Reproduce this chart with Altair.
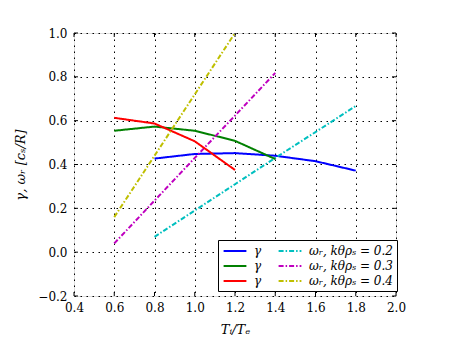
import altair as alt
import pandas as pd

# ---- data ----
x_g1 = [0.8, 1.0, 1.2, 1.4, 1.6, 1.8]
y_g1 = [0.427, 0.448, 0.452, 0.44, 0.415, 0.372]
x_g2 = [0.6, 0.8, 1.0, 1.2, 1.4]
y_g2 = [0.554, 0.573, 0.554, 0.508, 0.425]
x_g3 = [0.6, 0.8, 1.0, 1.2]
y_g3 = [0.613, 0.587, 0.506, 0.375]
x_w1 = [0.8, 1.0, 1.2, 1.4, 1.6, 1.8]
y_w1 = [0.07, 0.19, 0.31, 0.43, 0.548, 0.667]
x_w2 = [0.6, 0.8, 1.0, 1.2, 1.4]
y_w2 = [0.04, 0.235, 0.43, 0.623, 0.818]
x_w3 = [0.6, 0.8, 1.0, 1.2]
y_w3 = [0.16, 0.44, 0.72, 1.0]

keys = ["g1", "w1", "g2", "w2", "g3", "w3"]
labels = {"g1": "γ", "w1": "ωᵣ, kθρₛ = 0.2",
          "g2": "γ", "w2": "ωᵣ, kθρₛ = 0.3",
          "g3": "γ", "w3": "ωᵣ, kθρₛ = 0.4"}
colors = ["#0000ff", "#00bfbf", "#008000", "#bf00bf", "#ff0000", "#bfbf00"]
dashes = [[1, 0], [5, 2, 1.5, 2], [1, 0], [5, 2, 1.5, 2], [1, 0], [5, 2, 1.5, 2]]

x_ticks = [0.4, 0.6, 0.8, 1.0, 1.2, 1.4, 1.6, 1.8, 2.0]
y_ticks = [-0.2, 0.0, 0.2, 0.4, 0.6, 0.8, 1.0]

series = {"g1": (x_g1, y_g1), "w1": (x_w1, y_w1), "g2": (x_g2, y_g2),
          "w2": (x_w2, y_w2), "g3": (x_g3, y_g3), "w3": (x_w3, y_w3)}
rows = []
for k in keys:
    xs_, ys_ = series[k]
    for i, (a, b) in enumerate(zip(xs_, ys_)):
        rows.append({"s": k, "x": a, "y": b, "o": i})
df = pd.DataFrame(rows)

W, H = 322, 263
FONT = "DejaVu Serif"

label_expr = " : ".join(
    [f"datum.label == '{k}' ? '{labels[k]}'" for k in keys]) + " : ''"

xs = alt.Scale(domain=[0.4, 2.0], nice=False, zero=False)
ys = alt.Scale(domain=[-0.2, 1.0], nice=False, zero=False)

common_axis = dict(titleFontStyle="italic", titleFontWeight="normal",
                   titleFontSize=13, titleFont=FONT,
                   labelFont=FONT, labelFontSize=12,
                   labelFlush=False, labelOverlap=False,
                   ticks=False, domain=False, grid=True,
                   gridColor="black", gridDash=[1.5, 4.5], gridWidth=1,
                   gridOpacity=1, labelColor="black", titleColor="black")

lines = alt.Chart(df).mark_line(strokeWidth=2, clip=True).encode(
    x=alt.X("x:Q", scale=xs,
            axis=alt.Axis(values=x_ticks, format=".1f", title="Tᵢ/Tₑ",
                          titlePadding=10, labelPadding=6, **common_axis)),
    y=alt.Y("y:Q", scale=ys,
            axis=alt.Axis(values=y_ticks, format=".1f", title="γ, ωᵣ [cₛ/R]",
                          titlePadding=10, labelPadding=7, **common_axis)),
    color=alt.Color("s:N", scale=alt.Scale(domain=keys, range=colors),
                    legend=alt.Legend(
                        title=None, orient="none", legendX=144, legendY=207,
                        columns=2, direction="horizontal", labelExpr=label_expr,
                        symbolType="M-2,0H2", symbolSize=130, symbolStrokeWidth=2,
                        symbolOffset=6,
                        labelFont=FONT, labelFontSize=12, labelFontStyle="italic",
                        labelColor="black", strokeColor="black", fillColor="white",
                        padding=4, rowPadding=2, columnPadding=12, labelOffset=12,
                        labelLimit=200)),
    strokeDash=alt.StrokeDash("s:N", scale=alt.Scale(domain=keys, range=dashes),
                              legend=None),
    order="o:Q",
    detail="s:N",
)

tx = pd.DataFrame({"t": x_ticks})
ty = pd.DataFrame({"t": y_ticks})
tb = alt.Chart(tx).mark_rule(color="black", strokeWidth=1).encode(
    x=alt.X("t:Q", scale=xs), y=alt.value(H), y2=alt.value(H - 4))
tt = alt.Chart(tx).mark_rule(color="black", strokeWidth=1).encode(
    x=alt.X("t:Q", scale=xs), y=alt.value(0), y2=alt.value(4))
tl = alt.Chart(ty).mark_rule(color="black", strokeWidth=1).encode(
    y=alt.Y("t:Q", scale=ys), x=alt.value(0), x2=alt.value(4))
tr = alt.Chart(ty).mark_rule(color="black", strokeWidth=1).encode(
    y=alt.Y("t:Q", scale=ys), x=alt.value(W), x2=alt.value(W - 4))

chart = alt.layer(tb, tt, tl, tr, lines).properties(
    width=W, height=H, padding={"left": 6, "top": 19, "right": 5, "bottom": 5}
).configure_view(stroke="black", strokeWidth=1.5).configure(background="white")

chart.save("out.html", embed_options={"renderer": "svg", "actions": False})
